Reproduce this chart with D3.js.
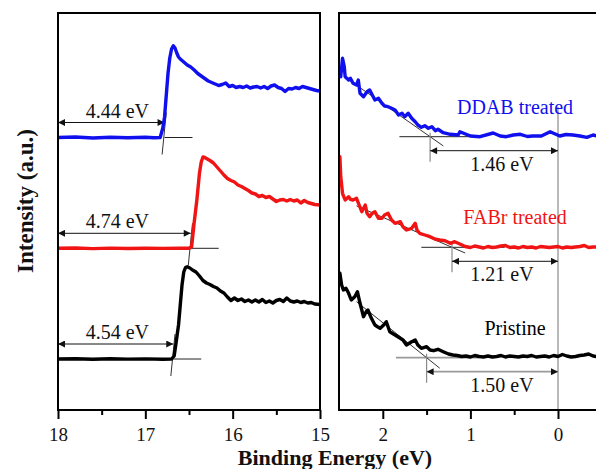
<!DOCTYPE html>
<html>
<head>
<meta charset="utf-8">
<script src="https://cdn.jsdelivr.net/npm/d3@7"></script>
<style>
  body { margin: 0; background: #fff; }
  text { font-family: "Liberation Serif", "Times New Roman", serif; }
</style>
</head>
<body>
<svg id="chart" width="596" height="469"></svg>
<script>
// ---- Samples ----
const samples = ["Pristine", "FABr treated", "DDAB treated"];
const sampleColors = ["#000000", "#f01414", "#1010ee"];
const photonEnergy = 21.22;            // He I (eV)
const workFunctions = [4.54, 4.74, 4.44];
const vbmOnsets = [1.50, 1.21, 1.46];

// ---- Axis ticks ----
const cutoffTicks = [18, 17, 16, 15];
const cutoffMinorTicks = [17.5, 16.5, 15.5];
const valenceTicks = [2, 1, 0];
const valenceMinorTicks = [1.5, 0.5];

// ---- Secondary-electron cutoff spectra: [binding energy (eV), intensity (a.u., offset)] ----
const pristineCutoff = [
  [18.0,5.1],[17.8,5.13],[17.6,5.08],[17.4,5.12],[17.2,5.09],[17.0,5.11],[16.8,5.08],[16.7,5.1],
  [16.67,5.4],[16.65,6.6],[16.62,8.5],[16.60,10.5],[16.58,12.5],[16.56,13.8],[16.54,14.25],[16.52,14.33],
  [16.49,14.2],[16.46,14.0],[16.42,13.8],[16.38,13.4],[16.34,12.95],[16.30,12.7],[16.26,12.55],[16.22,12.35],
  [16.18,12.2],[16.14,11.9],[16.10,11.7],[16.06,11.3],[16.02,10.95],[15.98,11.2],[15.94,10.95],[15.90,11.1],
  [15.86,10.85],[15.82,11.0],[15.78,10.8],[15.74,11.0],[15.70,10.8],[15.66,11.05],[15.62,10.75],[15.58,10.9],
  [15.54,10.7],[15.50,10.95],[15.46,11.05],[15.42,10.85],[15.38,11.2],[15.34,10.9],[15.30,10.8],[15.26,10.9],
  [15.22,10.75],[15.18,10.85],[15.14,10.7],[15.10,10.75],[15.06,10.6],[15.00,10.55]
];
const fabrCutoff = [
  [18.0,16.17],[17.8,16.2],[17.6,16.14],[17.4,16.19],[17.2,16.15],[17.0,16.18],[16.8,16.16],[16.6,16.19],[16.5,16.17],
  [16.47,16.33],[16.44,18.8],[16.41,21.0],[16.38,23.7],[16.36,24.8],[16.34,25.3],[16.32,25.25],[16.29,25.1],
  [16.26,24.95],[16.22,24.7],[16.18,24.3],[16.14,23.9],[16.10,23.5],[16.06,23.15],[16.02,22.95],[15.98,22.8],
  [15.94,22.5],[15.90,22.35],[15.86,22.15],[15.82,21.95],[15.78,21.7],[15.74,21.6],[15.70,21.35],[15.66,21.45],
  [15.62,21.25],[15.58,21.35],[15.54,21.1],[15.50,20.85],[15.46,21.0],[15.42,21.05],[15.38,20.9],[15.34,21.05],
  [15.30,20.9],[15.26,21.0],[15.22,20.7],[15.18,20.95],[15.14,20.75],[15.10,20.65],[15.06,20.55],[15.00,20.5]
];
const ddabCutoff = [
  [18.0,27.25],[17.8,27.3],[17.6,27.2],[17.4,27.28],[17.2,27.22],[17.0,27.27],[16.9,27.23],[16.83,27.25],
  [16.80,28.2],[16.78,29.3],[16.76,31.5],[16.74,33.7],[16.72,35.2],[16.70,36.1],[16.68,36.43],[16.66,36.2],
  [16.64,35.7],[16.62,35.3],[16.60,35.1],[16.56,34.8],[16.52,34.5],[16.48,34.3],[16.44,34.0],[16.40,33.65],
  [16.36,33.4],[16.32,33.15],[16.28,32.9],[16.24,32.75],[16.20,32.6],[16.16,32.45],[16.12,32.55],[16.08,32.7],
  [16.04,32.35],[16.00,32.45],[15.96,32.25],[15.92,32.35],[15.88,32.25],[15.84,32.4],[15.80,32.2],[15.76,32.3],
  [15.72,32.35],[15.68,32.2],[15.64,32.35],[15.60,32.15],[15.56,32.4],[15.52,32.5],[15.48,32.25],[15.44,32.15],
  [15.40,31.85],[15.36,32.15],[15.32,32.1],[15.28,32.25],[15.24,32.15],[15.20,32.35],[15.16,32.25],[15.12,32.15],
  [15.08,32.05],[15.04,31.95],[15.00,31.9]
];

// ---- Valence-band spectra ----
const pristineValence = [
  [2.49,13.67],[2.47,12.5],[2.45,12.0],[2.42,12.17],[2.39,11.67],[2.36,11.0],[2.32,11.33],[2.29,11.83],
  [2.26,10.67],[2.22,9.33],[2.19,9.83],[2.17,10.0],[2.13,9.17],[2.09,8.5],[2.06,8.33],[2.03,8.17],
  [1.99,8.5],[1.96,8.83],[1.92,7.83],[1.86,7.5],[1.80,7.17],[1.77,7.0],[1.73,6.5],[1.67,6.83],
  [1.63,7.0],[1.60,6.5],[1.56,6.17],[1.50,6.33],[1.46,6.0],[1.42,5.93],[1.37,6.07],[1.31,5.83],
  [1.25,5.6],[1.20,5.5],[1.15,5.45],[1.10,5.35],[1.05,5.4],[1.00,5.3],[0.95,5.45],[0.90,5.35],
  [0.85,5.3],[0.80,5.4],[0.75,5.3],[0.70,5.35],[0.65,5.45],[0.60,5.3],[0.55,5.4],[0.50,5.35],
  [0.45,5.3],[0.40,5.4],[0.35,5.35],[0.30,5.45],[0.25,5.3],[0.20,5.35],[0.15,5.4],[0.10,5.3],
  [0.05,5.45],[0.00,5.35],[-0.05,5.55],[-0.10,5.4],[-0.15,5.3],[-0.20,5.35],[-0.25,5.45],[-0.30,5.5],
  [-0.35,5.6],[-0.40,5.4],[-0.44,5.35]
];
const fabrValence = [
  [2.49,25.33],[2.48,23.33],[2.46,21.67],[2.43,21.0],[2.39,21.33],[2.37,21.07],[2.34,21.0],[2.30,21.17],
  [2.27,20.5],[2.24,19.83],[2.20,20.5],[2.18,19.67],[2.15,19.33],[2.12,19.67],[2.09,19.83],[2.05,19.17],
  [2.01,19.17],[1.98,19.5],[1.94,19.67],[1.90,19.0],[1.86,18.67],[1.80,18.83],[1.77,18.33],[1.73,18.0],
  [1.67,18.17],[1.63,18.67],[1.61,18.0],[1.58,17.67],[1.52,17.5],[1.46,17.33],[1.40,17.07],[1.35,17.0],
  [1.29,16.93],[1.23,16.67],[1.18,16.83],[1.12,16.6],[1.06,16.35],[1.00,16.25],[0.95,16.4],[0.90,16.3],
  [0.85,16.2],[0.80,16.35],[0.75,16.25],[0.70,16.3],[0.65,16.4],[0.60,16.45],[0.55,16.25],[0.50,16.3],
  [0.45,16.2],[0.40,16.35],[0.35,16.25],[0.30,16.3],[0.25,16.2],[0.20,16.35],[0.15,16.3],[0.10,16.25],
  [0.05,16.3],[0.00,16.35],[-0.05,16.2],[-0.10,16.3],[-0.15,16.25],[-0.20,16.3],[-0.25,16.35],[-0.30,16.45],
  [-0.35,16.25],[-0.40,16.3],[-0.44,16.3]
];
const ddabValence = [
  [2.48,33.33],[2.46,35.17],[2.44,34.33],[2.43,33.33],[2.39,33.0],[2.37,33.17],[2.34,32.67],[2.30,32.5],
  [2.28,33.0],[2.26,31.67],[2.22,31.33],[2.18,31.83],[2.15,32.0],[2.12,31.5],[2.09,31.0],[2.05,31.17],
  [2.01,30.67],[1.98,30.4],[1.94,30.33],[1.90,30.17],[1.86,30.0],[1.82,29.5],[1.78,29.67],[1.75,29.33],
  [1.71,29.67],[1.67,29.17],[1.63,28.83],[1.60,28.5],[1.56,28.27],[1.52,28.43],[1.48,28.17],[1.44,28.33],
  [1.40,27.93],[1.37,28.07],[1.31,27.73],[1.23,27.57],[1.14,27.5],[1.12,27.83],[1.00,27.4],[0.89,27.33],
  [0.74,27.7],[0.66,27.4],[0.59,27.33],[0.51,27.5],[0.43,27.57],[0.35,27.35],[0.29,27.4],[0.19,27.4],
  [0.09,27.83],[-0.02,27.4],[-0.09,27.55],[-0.17,27.5],[-0.25,27.4],[-0.33,27.27],[-0.40,27.5],[-0.44,27.4]
];

const cutoffSpectra = [pristineCutoff, fabrCutoff, ddabCutoff];
const valenceSpectra = [pristineValence, fabrValence, ddabValence];
// flat background level under each curve (same units as intensity)
const cutoffBaselines = [5.1, 16.17, 27.25];
const valenceBaselines = [5.23, 16.27, 27.33];
// linear-fit slopes of the valence-band leading edge (intensity per eV)
const valenceEdgeSlopes = [7.0, 3.8, 6.13];

// ---- Layout ----
const svg = d3.select("#chart");
const plotTop = 13, plotBottom = 410;
const left = { x0: 58, x1: 320 };
const right = { x0: 339, x1: 339 + 262.8 };

const xL = d3.scaleLinear().domain([18, 15]).range([left.x0, left.x1]);
const xR = d3.scaleLinear().domain([2.5, -0.5]).range([right.x0, right.x1]);
const y = d3.scaleLinear().domain([0, 39.7]).range([plotBottom, plotTop]);

const defs = svg.append("defs");
function marker(id, color) {
  defs.append("marker").attr("id", id)
    .attr("viewBox", "0 0 10 10").attr("refX", 10).attr("refY", 5)
    .attr("markerUnits", "userSpaceOnUse").attr("markerWidth", 9).attr("markerHeight", 7)
    .attr("orient", "auto-start-reverse")
    .append("path").attr("d", "M0,0 L10,5 L0,10 z").attr("fill", color);
}
marker("arrowHead", "#111");

["clipL", "clipR"].forEach((id, i) => {
  const p = i === 0 ? left : right;
  defs.append("clipPath").attr("id", id).append("rect")
    .attr("x", p.x0).attr("y", plotTop).attr("width", p.x1 - p.x0).attr("height", plotBottom - plotTop);
});

const gL = svg.append("g").attr("clip-path", "url(#clipL)");
const gR = svg.append("g").attr("clip-path", "url(#clipR)");

function seg(g, x, x1, y1, x2, y2, color, w) {
  g.append("line").attr("x1", x(x1)).attr("y1", y(y1)).attr("x2", x(x2)).attr("y2", y(y2))
    .attr("stroke", color).attr("stroke-width", w);
}
function arrow(g, x, xa, xb, v, color, w) {
  g.append("line").attr("x1", x(xa)).attr("x2", x(xb)).attr("y1", y(v)).attr("y2", y(v))
    .attr("stroke", color).attr("stroke-width", w)
    .attr("marker-start", "url(#arrowHead)").attr("marker-end", "url(#arrowHead)");
}

// ---- Left panel: cutoff construction lines ----
samples.forEach((s, i) => {
  const cut = +(photonEnergy - workFunctions[i]).toFixed(2);
  const base = cutoffBaselines[i];
  seg(gL, xL, cut, base, cut - 0.32, base, "#222", 1);
  seg(gL, xL, cut + 0.028, base - 1.7, cut - 0.02, base + 2.5, "#333", 1);
  const av = y.invert(y(base) - 15);
  arrow(gL, xL, 18, cut, av, "#111", 1);
  svg.append("text").attr("x", xL(17.32)).attr("y", y(av) - 5)
    .attr("text-anchor", "middle").attr("font-size", 20).attr("fill", "#111")
    .text(workFunctions[i].toFixed(2) + " eV");
});

const line = (x) => d3.line().x(d => x(d[0])).y(d => y(d[1]));
cutoffSpectra.forEach((data, i) => {
  gL.append("path").datum(data).attr("d", line(xL))
    .attr("fill", "none").attr("stroke", sampleColors[i]).attr("stroke-width", 3.4)
    .attr("stroke-linejoin", "round").attr("stroke-linecap", "round");
});

// ---- Right panel: Fermi level and VBM construction lines ----
gR.append("line").attr("x1", xR(0)).attr("x2", xR(0))
  .attr("y1", y(30.33)).attr("y2", y(0)).attr("stroke", "#8a8a8a").attr("stroke-width", 1.2);

samples.forEach((s, i) => {
  const on = vbmOnsets[i];
  const base = valenceBaselines[i];
  const k = valenceEdgeSlopes[i];
  const gray = i === 0;
  const lc = gray ? "#9a9a9a" : "#222";
  const lw = gray ? 1.8 : 1;
  seg(gR, xR, on + 0.35, base, on - 0.6, base, lc, lw);
  seg(gR, xR, 2.3, base + k * (2.3 - on), on - 0.15, base + k * (-0.15), "#333", 1);
  const av = y.invert(y(base) + 14);
  seg(gR, xR, on, y.invert(y(base) - 4), on, y.invert(y(av) + 11), "#8a8a8a", 1.2);
  arrow(gR, xR, on, 0, av, gray ? "#9a9a9a" : "#111", gray ? 1.8 : 1);
  svg.append("text").attr("x", xR(0.64)).attr("y", y(av) + 20)
    .attr("text-anchor", "middle").attr("font-size", 20).attr("fill", "#111")
    .text(on.toFixed(2) + " eV");
  svg.append("text").attr("x", xR(0.49)).attr("y", y(base) - 23)
    .attr("text-anchor", "middle").attr("font-size", 20).attr("fill", sampleColors[i])
    .text(s);
});

valenceSpectra.forEach((data, i) => {
  gR.append("path").datum(data).attr("d", line(xR))
    .attr("fill", "none").attr("stroke", sampleColors[i]).attr("stroke-width", 3.4)
    .attr("stroke-linejoin", "round").attr("stroke-linecap", "round");
});

// ---- Frames ----
[left, right].forEach(p => {
  svg.append("rect").attr("x", p.x0).attr("y", plotTop)
    .attr("width", p.x1 - p.x0).attr("height", plotBottom - plotTop)
    .attr("fill", "none").attr("stroke", "#000").attr("stroke-width", 2);
});

// ---- Axes ----
function drawAxis(x, major, minor) {
  const g = svg.append("g").attr("transform", `translate(0,${plotBottom})`);
  g.call(d3.axisBottom(x).tickValues(major).tickSize(9).tickSizeOuter(0).tickPadding(9)
    .tickFormat(d3.format("d")));
  g.select(".domain").remove();
  g.selectAll(".tick line").attr("stroke", "#000").attr("stroke-width", 2);
  g.selectAll(".tick text").attr("font-size", 19).attr("fill", "#111")
    .attr("font-family", "'Liberation Serif', 'Times New Roman', serif");
  const gm = svg.append("g").attr("transform", `translate(0,${plotBottom})`);
  gm.call(d3.axisBottom(x).tickValues(minor).tickSize(5).tickSizeOuter(0).tickFormat(""));
  gm.select(".domain").remove();
  gm.selectAll(".tick line").attr("stroke", "#000").attr("stroke-width", 2);
}
drawAxis(xL, cutoffTicks, cutoffMinorTicks);
drawAxis(xR, valenceTicks, valenceMinorTicks);

svg.append("text").attr("x", 335).attr("y", 465).attr("text-anchor", "middle")
  .attr("font-size", 22).attr("font-weight", "bold").attr("fill", "#111")
  .text("Binding Energy (eV)");
svg.append("text").attr("transform", "translate(33,201) rotate(-90)")
  .attr("text-anchor", "middle").attr("font-size", 23).attr("font-weight", "bold").attr("fill", "#111")
  .text("Intensity (a.u.)");
</script>
</body>
</html>
